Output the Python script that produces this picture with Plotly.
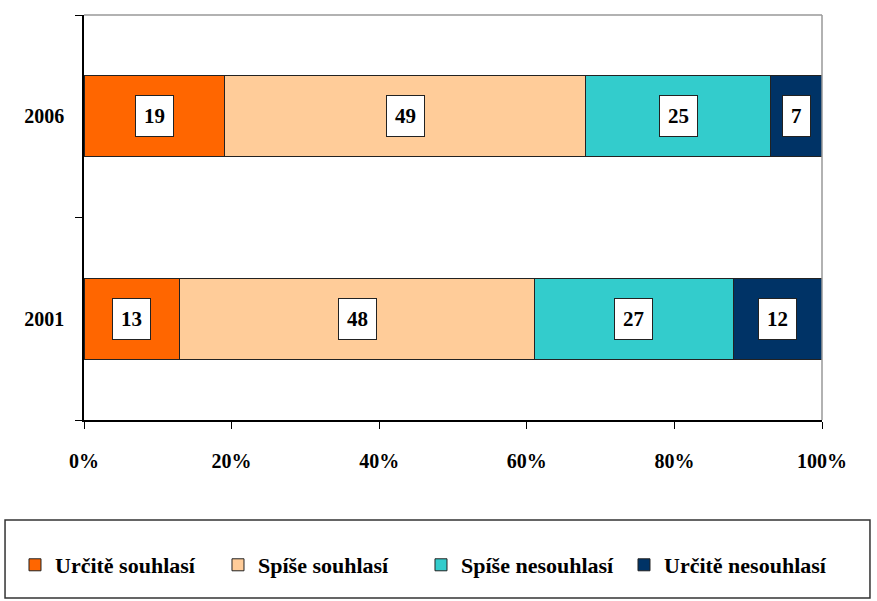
import plotly.graph_objects as go

years = ["2001", "2006"]
series_names = ["Určitě souhlasí", "Spíše souhlasí", "Spíše nesouhlasí", "Určitě nesouhlasí"]
values = {
    "Určitě souhlasí": [13, 19],
    "Spíše souhlasí": [48, 49],
    "Spíše nesouhlasí": [27, 25],
    "Určitě nesouhlasí": [12, 7],
}
colors = ["#FF6600", "#FFCC99", "#33CCCC", "#003366"]
x_ticks = [0, 20, 40, 60, 80, 100]
x_ticktext = ["%d%%" % v for v in x_ticks]

FONT = "Liberation Serif"

fig = go.Figure()
for name, col in zip(series_names, colors):
    fig.add_trace(go.Bar(
        y=years, x=values[name], name=name, orientation="h",
        marker=dict(color=col, line=dict(color="#222222", width=1)),
        hoverinfo="x+name",
    ))

# data labels in white boxes (y as category index)
for i, yr in enumerate(years):
    cum = 0
    for name in series_names:
        v = values[name][i]
        fig.add_annotation(
            x=cum + v / 2, y=i, xref="x", yref="y",
            text="<b>%d</b>" % v, showarrow=False,
            font=dict(family=FONT, size=21, color="black"),
            bgcolor="white", bordercolor="#222222", borderwidth=1, borderpad=8,
        )
        cum += v

# top / right gray frame lines
fig.add_shape(type="line", xref="x domain", yref="y domain", x0=0, x1=1, y0=1, y1=1,
              line=dict(color="#999999", width=1.5))
fig.add_shape(type="line", xref="x domain", yref="y domain", x0=1, x1=1, y0=0, y1=1,
              line=dict(color="#999999", width=1.5))
# legend box
fig.add_shape(type="rect", xref="paper", yref="paper",
              x0=-0.107, x1=1.065, y0=-0.4395, y1=-0.247,
              line=dict(color="#333333", width=1.5), fillcolor="rgba(0,0,0,0)")

fig.update_layout(
    barmode="stack",
    bargap=0.6,
    width=877, height=601,
    margin=dict(l=84, r=55, t=15, b=181),
    plot_bgcolor="white", paper_bgcolor="white",
    font=dict(family=FONT, size=16, color="black"),
    xaxis=dict(
        range=[0, 100], tickmode="array", tickvals=x_ticks, ticktext=x_ticktext,
        showgrid=False, zeroline=False,
        showline=True, linecolor="black", linewidth=1.5,
        ticks="outside", ticklen=7, tickcolor="black",
        tickfont=dict(family=FONT, size=20, color="black", weight="bold"),
        ticklabelstandoff=15,
        automargin=False,
        fixedrange=True,
    ),
    yaxis=dict(
        type="category", categoryorder="array", categoryarray=years,
        range=[-0.5, 1.5],
        showgrid=False, zeroline=False,
        showline=True, linecolor="black", linewidth=1.5,
        ticks="outside", ticklen=7, tickcolor="black", tickson="boundaries",
        tickfont=dict(family=FONT, size=20, color="black", weight="bold"),
        ticklabelstandoff=14,
        automargin=False,
        fixedrange=True,
    ),
    legend=dict(
        orientation="h",
        x=-0.0935, xanchor="left", y=-0.358, yanchor="middle",
        font=dict(family=FONT, size=22, color="black", weight="bold"),
        entrywidth=158, entrywidthmode="pixels",
        traceorder="normal", itemwidth=30,
        bgcolor="rgba(0,0,0,0)",
    ),
    showlegend=True,
)

fig.write_html("out.html", post_script="document.body.style.margin='0';",
               config={"displayModeBar": False})
